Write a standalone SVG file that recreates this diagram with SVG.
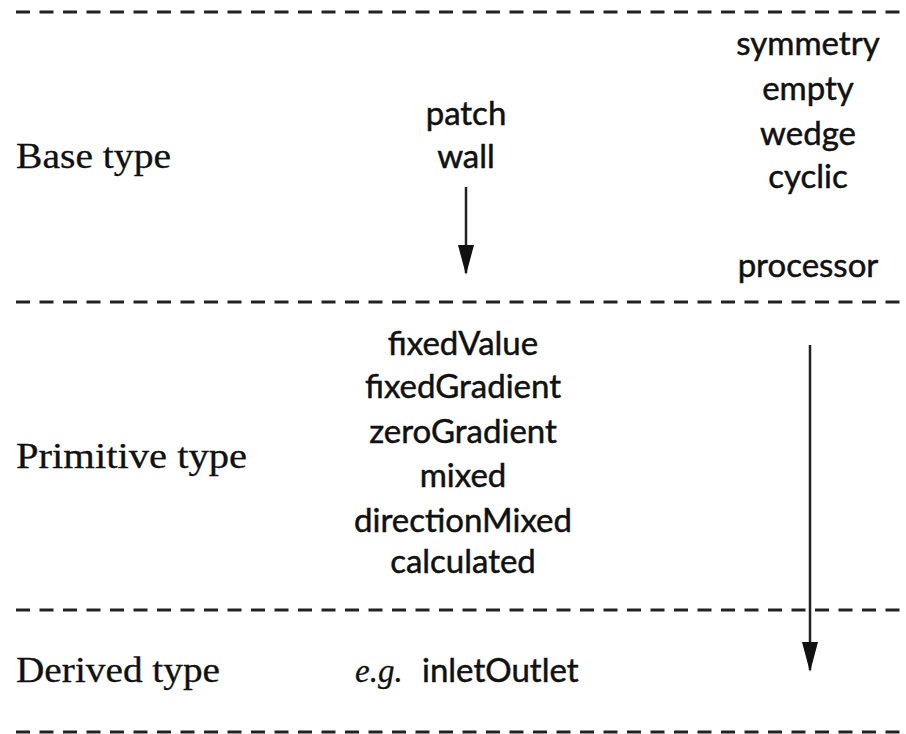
<svg xmlns="http://www.w3.org/2000/svg" width="906" height="734" viewBox="0 0 906 734">
<defs>
<style>
.dash{stroke:#222;stroke-width:3;stroke-dasharray:14 9.5;fill:none}
.serif{font-family:"Liberation Serif","DejaVu Serif",serif;font-size:35px;fill:#111;stroke:#111;stroke-width:0.3}
.sans{font-family:Lato,"Open Sans",sans-serif;font-size:33px;fill:#111;stroke:#111;stroke-width:0.5;text-anchor:middle}
.arrow{stroke:#222;stroke-width:2.5;fill:none}
</style>
<marker id="ah" markerWidth="30" markerHeight="16" refX="28" refY="8" orient="auto" markerUnits="userSpaceOnUse" viewBox="0 0 30 16">
<path d="M0,0 L30,8 L0,16 Z" fill="#111"/>
</marker>
</defs>
<rect width="906" height="734" fill="#fff"/>
<g id="separators">
<line class="dash" x1="16" y1="12" x2="900" y2="12"/>
<line class="dash" x1="16" y1="302" x2="900" y2="302"/>
<line class="dash" x1="16" y1="610" x2="900" y2="610"/>
<line class="dash" x1="16" y1="732" x2="900" y2="732"/>
</g>
<g id="row-labels">
<text class="serif" x="16" y="168" textLength="155" lengthAdjust="spacingAndGlyphs">Base type</text>
<text class="serif" x="16" y="468" textLength="231" lengthAdjust="spacingAndGlyphs">Primitive type</text>
<text class="serif" x="16" y="682" textLength="204" lengthAdjust="spacingAndGlyphs">Derived type</text>
</g>
<g id="base-types">
<text class="sans" x="466" y="125">patch</text>
<text class="sans" x="466" y="168">wall</text>
</g>
<g id="constraint-types">
<text class="sans" x="808" y="55">symmetry</text>
<text class="sans" x="808" y="100">empty</text>
<text class="sans" x="808" y="145">wedge</text>
<text class="sans" x="808" y="188">cyclic</text>
<text class="sans" x="808" y="277">processor</text>
</g>
<g id="primitive-types">
<text class="sans" x="463" y="355">fixedValue</text>
<text class="sans" x="463" y="398">fixedGradient</text>
<text class="sans" x="463" y="443">zeroGradient</text>
<text class="sans" x="463" y="487">mixed</text>
<text class="sans" x="463" y="532">directionMixed</text>
<text class="sans" x="463" y="573">calculated</text>
</g>
<g id="derived-types">
<text x="355" y="682" style="font-family:'Liberation Serif',serif;font-style:italic;font-size:33px;fill:#111;stroke:#111;stroke-width:0.3">e.g.</text>
<text class="sans" x="422" y="682" style="text-anchor:start">inletOutlet</text>
</g>
<g id="connectors">
<line class="arrow" x1="466" y1="187" x2="466" y2="273" marker-end="url(#ah)"/>
<line class="arrow" x1="810" y1="345" x2="810" y2="670" marker-end="url(#ah)"/>
</g>
</svg>
